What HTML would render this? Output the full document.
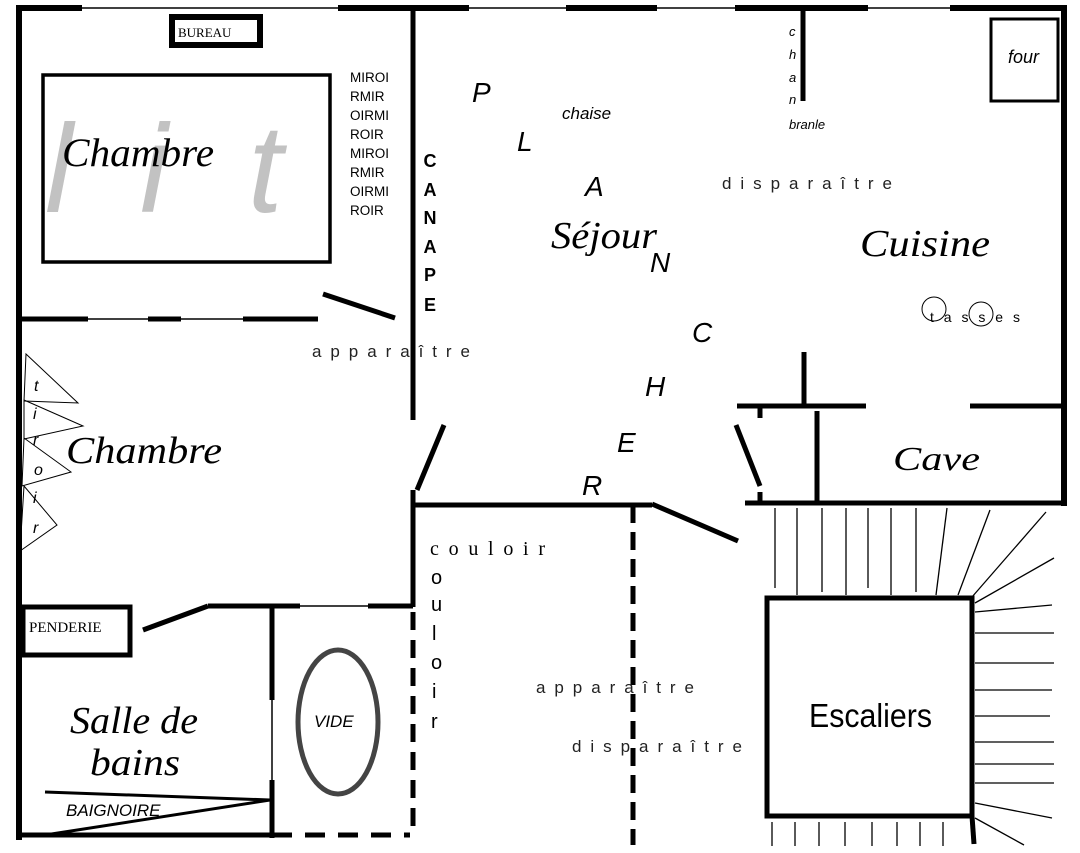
<!DOCTYPE html>
<html><head><meta charset="utf-8"><style>
html,body{margin:0;padding:0;background:#fff;}
svg{display:block;}
text{font-family:"Liberation Sans",sans-serif;}
.ser{font-family:"Liberation Serif",serif;}
</style></head><body>
<svg width="1080" height="853" viewBox="0 0 1080 853" xmlns="http://www.w3.org/2000/svg">
<rect width="1080" height="853" fill="#fff"/>
<g stroke="#000" fill="none" stroke-linecap="butt">
<line x1="18" y1="8" x2="1062" y2="8" stroke-width="1.5"/>
<g stroke-width="6">
<line x1="16" y1="8" x2="82" y2="8"/><line x1="338" y1="8" x2="469" y2="8"/>
<line x1="566" y1="8" x2="657" y2="8"/><line x1="735" y1="8" x2="868" y2="8"/>
<line x1="950" y1="8" x2="1066" y2="8"/>
</g>
<line x1="19" y1="5" x2="19" y2="840" stroke-width="6"/>
<line x1="1064" y1="5" x2="1064" y2="506" stroke-width="6"/>
<rect x="172" y="17" width="88" height="28" stroke-width="6"/>
<rect x="43" y="75" width="287" height="187" stroke-width="3.5"/>
<line x1="413" y1="8" x2="413" y2="420" stroke-width="5"/>
<line x1="18" y1="319" x2="318" y2="319" stroke-width="1.5"/>
<g stroke-width="5">
<line x1="18" y1="319" x2="88" y2="319"/><line x1="148" y1="319" x2="181" y2="319"/><line x1="243" y1="319" x2="318" y2="319"/>
<line x1="323" y1="294" x2="395" y2="318"/>
<line x1="803" y1="8" x2="803" y2="101"/>
<line x1="737" y1="406" x2="866" y2="406"/><line x1="804" y1="352" x2="804" y2="406"/>
<line x1="970" y1="406" x2="1064" y2="406"/>
<line x1="817" y1="411" x2="817" y2="503"/>
<line x1="760" y1="406" x2="760" y2="418"/>
<line x1="736" y1="425" x2="760" y2="486"/>
<line x1="760" y1="492" x2="760" y2="503"/>
<line x1="745" y1="503" x2="1066" y2="503"/>
<line x1="444" y1="425" x2="417" y2="490"/>
<line x1="413" y1="490" x2="413" y2="607"/>
<line x1="413" y1="505" x2="652" y2="505"/>
<line x1="652" y1="504" x2="738" y2="541"/>
<line x1="208" y1="606" x2="300" y2="606"/><line x1="368" y1="606" x2="413" y2="606"/>
<line x1="143" y1="630" x2="208" y2="606"/>
<rect x="23" y="607" width="107" height="48"/>
<line x1="272" y1="606" x2="272" y2="700"/><line x1="272" y1="780" x2="272" y2="838"/>
<line x1="18" y1="835" x2="272" y2="835"/>
</g>
<line x1="300" y1="606" x2="368" y2="606" stroke-width="1.5"/>
<line x1="272" y1="700" x2="272" y2="780" stroke-width="1.5"/>
<line x1="272" y1="835" x2="410" y2="835" stroke-width="5" stroke-dasharray="20,13"/>
<path d="M413 612 L413 830" stroke-width="5" stroke-dasharray="18,10"/>
<path d="M633 505 L633 845" stroke-width="5" stroke-dasharray="18,9"/>
<line x1="45" y1="792" x2="270" y2="800" stroke-width="3"/>
<line x1="45" y1="835" x2="270" y2="800" stroke-width="3"/>
<ellipse cx="338" cy="722" rx="40" ry="72" stroke="#444" stroke-width="5"/>
<rect x="767" y="598" width="205" height="218" stroke-width="5"/>
<g stroke-width="1.3">
<line x1="775" y1="508" x2="775" y2="588"/><line x1="797" y1="508" x2="797" y2="595"/>
<line x1="822" y1="508" x2="822" y2="592"/><line x1="846" y1="508" x2="846" y2="595"/>
<line x1="868" y1="508" x2="868" y2="588"/><line x1="891" y1="508" x2="891" y2="595"/>
<line x1="916" y1="508" x2="916" y2="592"/><line x1="947" y1="508" x2="936" y2="595"/>
<line x1="990" y1="510" x2="958" y2="595"/><line x1="1046" y1="512" x2="972" y2="597"/>
<line x1="1054" y1="558" x2="975" y2="603"/><line x1="1052" y1="605" x2="975" y2="612"/>
<line x1="975" y1="633" x2="1054" y2="633"/><line x1="975" y1="663" x2="1054" y2="663"/>
<line x1="975" y1="690" x2="1052" y2="690"/><line x1="975" y1="716" x2="1050" y2="716"/>
<line x1="975" y1="742" x2="1054" y2="742"/><line x1="975" y1="764" x2="1054" y2="764"/>
<line x1="975" y1="783" x2="1054" y2="783"/><line x1="975" y1="803" x2="1052" y2="818"/>
<line x1="975" y1="818" x2="1024" y2="845"/>
<line x1="772" y1="822" x2="772" y2="846"/><line x1="795" y1="822" x2="795" y2="846"/>
<line x1="819" y1="822" x2="819" y2="846"/><line x1="845" y1="822" x2="845" y2="846"/>
<line x1="872" y1="822" x2="872" y2="846"/><line x1="897" y1="822" x2="897" y2="846"/>
<line x1="920" y1="822" x2="920" y2="846"/><line x1="943" y1="822" x2="943" y2="846"/>
</g>
<line x1="972" y1="816" x2="974" y2="844" stroke-width="5"/>
<rect x="991" y="19" width="67" height="82" stroke-width="3"/>
<g stroke-width="1">
<polygon points="26,354 78,403 24,401"/>
<polygon points="24,400 83,426 24,439"/>
<polygon points="24,438 71,472 22,486"/>
<polygon points="24,486 57,525 20,551"/>
</g>
<circle cx="934" cy="309" r="12" stroke-width="1"/>
<circle cx="981" cy="314" r="12" stroke-width="1"/>
</g>
<g fill="#c2c2c2" font-family="Liberation Serif,serif" font-style="italic" font-size="125">
<text x="45" y="212">l</text><text x="140" y="212">i</text><text x="248" y="212">t</text>
</g>
<g fill="#000">
<text class="ser" x="62" y="166" font-size="40" font-style="italic" textLength="152" lengthAdjust="spacingAndGlyphs">Chambre</text>
<text class="ser" x="178" y="37" font-size="13">BUREAU</text>
<g class="ser" font-size="13.5"><text x="350" y="82">MIROI</text><text x="350" y="101">RMIR</text><text x="350" y="120">OIRMI</text><text x="350" y="139">ROIR</text><text x="350" y="158">MIROI</text><text x="350" y="177">RMIR</text><text x="350" y="196">OIRMI</text><text x="350" y="215">ROIR</text></g>
<g font-size="18" font-weight="bold" text-anchor="middle"><text x="430" y="167">C</text><text x="430" y="196">A</text><text x="430" y="224">N</text><text x="430" y="253">A</text><text x="430" y="281">P</text><text x="430" y="311">E</text></g>
<text x="312" y="357" font-size="17" fill="#222" textLength="158" lengthAdjust="spacing">apparaître</text>
<g font-size="28" font-style="italic"><text x="472" y="102">P</text><text x="517" y="151">L</text><text x="585" y="196">A</text><text x="650" y="272">N</text><text x="692" y="342">C</text><text x="645" y="396">H</text><text x="617" y="452">E</text><text x="582" y="495">R</text></g>
<text class="ser" x="551" y="248" font-size="38" font-style="italic" textLength="106" lengthAdjust="spacingAndGlyphs">Séjour</text>
<text x="562" y="119" font-size="17" font-style="italic">chaise</text>
<g font-size="13" font-style="italic"><text x="789" y="36">c</text><text x="789" y="59">h</text><text x="789" y="82">a</text><text x="789" y="104">n</text><text x="789" y="129">branle</text></g>
<text x="1008" y="63" font-size="18" font-style="italic">four</text>
<text x="722" y="189" font-size="17" fill="#222" textLength="170" lengthAdjust="spacing">disparaître</text>
<text class="ser" x="860" y="256" font-size="38" font-style="italic" textLength="130" lengthAdjust="spacingAndGlyphs">Cuisine</text>
<text x="930" y="322" font-size="14" textLength="90" lengthAdjust="spacing">tasses</text>
<text class="ser" x="893" y="470" font-size="34" font-style="italic" textLength="87" lengthAdjust="spacingAndGlyphs">Cave</text>
<text class="ser" x="66" y="463" font-size="38" font-style="italic" textLength="156" lengthAdjust="spacingAndGlyphs">Chambre</text>
<g font-size="16" font-style="italic"><text x="34" y="391">t</text><text x="33" y="419">i</text><text x="33" y="445">r</text><text x="34" y="475">o</text><text x="33" y="503">i</text><text x="33" y="533">r</text></g>
<text class="ser" x="430" y="555" font-size="20" textLength="115" lengthAdjust="spacing">couloir</text>
<g class="ser" font-size="20"><text x="431" y="584">o</text><text x="431" y="611">u</text><text x="432" y="640">l</text><text x="431" y="669">o</text><text x="432" y="698">i</text><text x="431" y="728">r</text></g>
<text class="ser" x="29" y="632" font-size="15">PENDERIE</text>
<text class="ser" x="70" y="733" font-size="38" font-style="italic" textLength="128" lengthAdjust="spacingAndGlyphs">Salle de</text>
<text class="ser" x="90" y="775" font-size="38" font-style="italic" textLength="90" lengthAdjust="spacingAndGlyphs">bains</text>
<text x="66" y="816" font-size="17" font-style="italic">BAIGNOIRE</text>
<text x="314" y="727" font-size="17" font-style="italic">VIDE</text>
<text x="536" y="693" font-size="17" fill="#222" textLength="158" lengthAdjust="spacing">apparaître</text>
<text x="572" y="752" font-size="17" fill="#222" textLength="170" lengthAdjust="spacing">disparaître</text>
<text x="809" y="727" font-size="33" textLength="123" lengthAdjust="spacingAndGlyphs">Escaliers</text>
</g>
</svg>
</body></html>
